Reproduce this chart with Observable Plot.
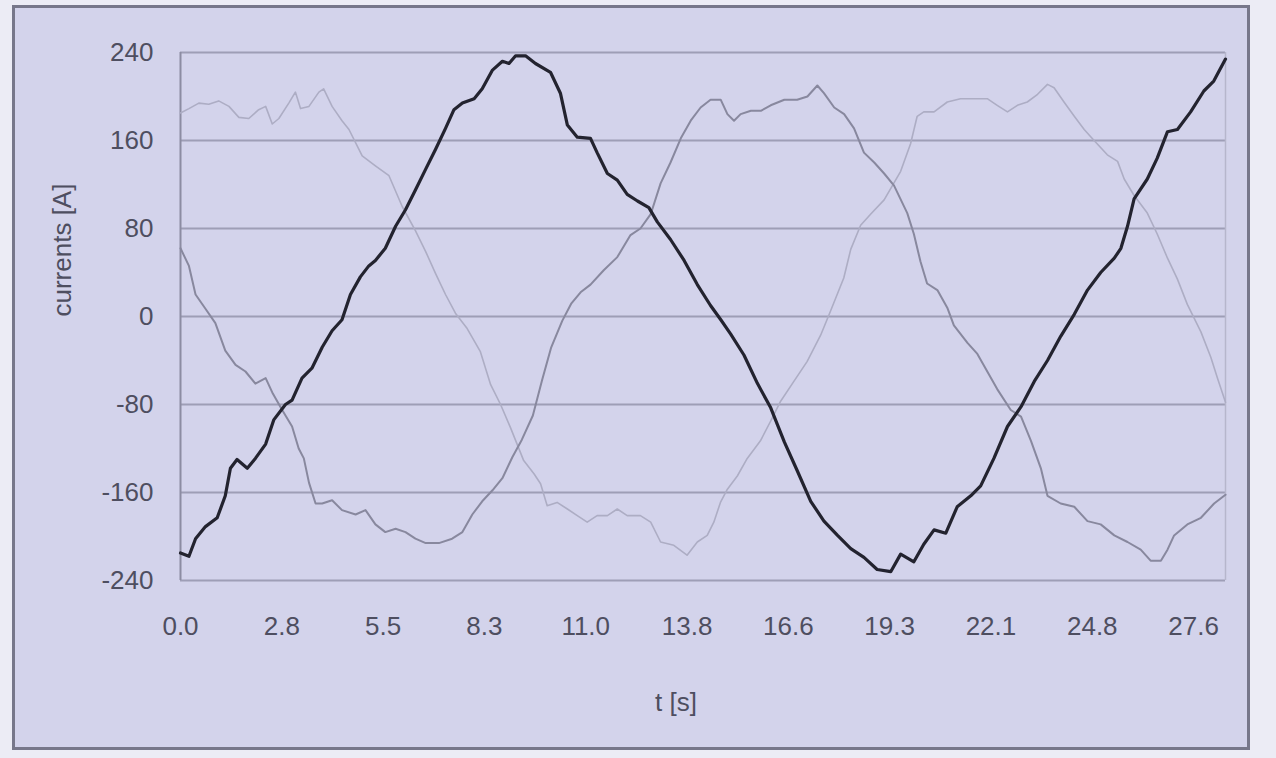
<!DOCTYPE html>
<html>
<head>
<meta charset="utf-8">
<script src="https://cdn.jsdelivr.net/npm/d3@7"></script>
<script src="https://cdn.jsdelivr.net/npm/@observablehq/plot@0.6"></script>
<style>
  html, body { margin: 0; padding: 0; background: #ececf5; }
  #wrap { position: relative; width: 1276px; height: 758px; overflow: hidden; }
  #panel { position: absolute; left: 12px; top: 5px; width: 1238px; height: 745px;
           background: #d3d3eb; border: 3px solid #77778a; box-sizing: border-box; }
  #chart { position: absolute; left: 0; top: 0; }
</style>
</head>
<body>
<div id="wrap"><div id="panel"></div><div id="chart"></div></div>
<script>
// time axis (s)
const xTicks = [0, 2.76, 5.52, 8.28, 11.04, 13.8, 16.56, 19.32, 22.08, 24.84, 27.6];
const yTicks = [-240, -160, -80, 0, 80, 160, 240];
const tMax = 28.47;

// phase 1 (dark)
const tA = [0,0.23,0.41,0.68,1.0,1.22,1.36,1.54,1.82,2.04,2.32,2.54,2.86,3.04,3.31,3.58,3.86,4.13,4.4,4.63,4.9,5.13,5.31,5.58,5.86,6.13,6.4,6.68,6.95,7.22,7.45,7.68,8.0,8.22,8.5,8.77,8.95,9.13,9.4,9.67,10.08,10.35,10.54,10.81,11.17,11.35,11.63,11.9,12.17,12.45,12.76,12.99,13.35,13.72,14.08,14.44,14.72,14.99,15.35,15.72,16.08,16.45,16.8,17.17,17.53,17.9,18.26,18.62,18.98,19.35,19.62,19.98,20.25,20.53,20.85,21.16,21.53,21.8,22.16,22.53,22.9,23.26,23.62,23.98,24.35,24.71,25.07,25.44,25.62,25.8,25.98,26.34,26.61,26.89,27.16,27.52,27.88,28.15,28.47];
const iA = [-215,-218,-202,-191,-183,-163,-138,-130,-138,-129,-116,-94,-80,-76,-56,-47,-28,-13,-3,20,36,46,51,62,82,97,115,134,152,171,188,194,198,207,224,232,230,237,237,230,222,203,174,163,162,149,130,124,111,105,99,86,70,51,29,10,-3,-16,-35,-61,-83,-114,-140,-168,-186,-199,-211,-219,-230,-232,-216,-223,-207,-194,-197,-173,-163,-154,-129,-100,-82,-59,-40,-18,2,24,40,53,62,82,107,125,144,168,170,186,205,214,234];

// phase 2 (medium grey)
const tB = [0,0.23,0.41,0.68,0.95,1.22,1.5,1.77,2.04,2.32,2.5,2.77,3.04,3.22,3.36,3.5,3.68,3.86,4.13,4.4,4.77,5.04,5.31,5.58,5.86,6.13,6.4,6.68,7.04,7.4,7.68,7.95,8.22,8.5,8.77,9.04,9.3,9.6,9.85,10.1,10.4,10.65,10.9,11.17,11.53,11.9,12.26,12.53,12.81,13.08,13.35,13.63,13.9,14.17,14.44,14.72,14.9,15.08,15.26,15.54,15.81,16.08,16.45,16.8,17.08,17.35,17.53,17.81,18.08,18.35,18.62,18.9,19.17,19.44,19.8,19.98,20.16,20.34,20.62,20.89,21.07,21.44,21.71,21.98,22.25,22.62,22.9,23.17,23.44,23.62,23.98,24.35,24.71,25.07,25.44,25.8,26.16,26.43,26.71,26.89,27.07,27.43,27.8,28.16,28.47];
const iB = [62,46,20,7,-6,-31,-44,-50,-61,-56,-69,-85,-100,-120,-129,-151,-170,-170,-167,-176,-180,-176,-189,-196,-193,-196,-202,-206,-206,-202,-196,-180,-168,-158,-147,-128,-112,-90,-58,-28,-4,12,22,29,42,54,74,80,93,121,140,162,178,190,197,197,184,178,184,187,187,192,197,197,200,210,203,190,184,171,149,140,130,119,94,75,50,30,24,8,-8,-24,-34,-50,-66,-85,-91,-113,-138,-163,-170,-173,-186,-189,-199,-205,-212,-222,-222,-212,-199,-189,-183,-170,-162];

// phase 3 (light grey)
const tC = [0,0.23,0.5,0.77,1.04,1.32,1.59,1.86,2.13,2.32,2.5,2.68,2.95,3.13,3.27,3.5,3.77,3.9,4.13,4.4,4.59,4.95,5.31,5.68,6.04,6.4,6.68,6.95,7.22,7.49,7.81,8.17,8.45,8.72,8.99,9.35,9.63,9.81,9.99,10.26,10.54,10.81,11.08,11.35,11.63,11.9,12.17,12.53,12.81,13.08,13.44,13.8,14.08,14.35,14.53,14.71,14.9,15.17,15.44,15.8,16.08,16.35,16.71,17.07,17.44,17.71,18.07,18.26,18.53,18.8,19.17,19.62,19.89,20.07,20.25,20.53,20.89,21.25,21.62,21.98,22.25,22.53,22.8,23.07,23.35,23.62,23.8,24.07,24.35,24.62,24.89,25.25,25.53,25.71,25.98,26.34,26.61,26.89,27.16,27.43,27.8,28.07,28.25,28.47];
const iC = [185,189,194,193,196,191,181,180,188,191,175,180,194,204,189,191,204,207,191,178,170,146,137,128,100,78,59,39,20,3,-11,-32,-62,-80,-101,-131,-143,-152,-172,-169,-175,-181,-187,-181,-181,-175,-181,-181,-187,-205,-208,-217,-205,-199,-187,-169,-157,-145,-129,-113,-95,-77,-59,-41,-17,5,35,61,83,93,106,132,157,182,186,186,195,198,198,198,192,186,192,195,202,211,208,195,182,170,160,147,141,125,110,94,75,53,34,11,-14,-37,-56,-78];

const seriesA = tA.map((t, k) => ({t, i: iA[k]}));
const seriesB = tB.map((t, k) => ({t, i: iB[k]}));
const seriesC = tC.map((t, k) => ({t, i: iC[k]}));

const textColor = "#4e4e60";
const chart = Plot.plot({
  width: 1276,
  height: 758,
  marginLeft: 180,
  marginRight: 51,
  marginTop: 52,
  marginBottom: 178,
  style: {background: "transparent", fontFamily: "'Liberation Sans', Arial, sans-serif", fontSize: "26px", color: textColor},
  x: {domain: [0, tMax], label: null},
  y: {domain: [-240, 240], label: null},
  marks: [
    Plot.gridY(yTicks, {stroke: "#9e9eb6", strokeOpacity: 1, strokeWidth: 2}),
    Plot.ruleX([tMax], {stroke: "#b6b6cc", strokeWidth: 1.5}),
    Plot.ruleX([0], {stroke: "#8c8ca2", strokeWidth: 2}),
    Plot.axisX(xTicks, {tickSize: 0, tickPadding: 36, tickFormat: d => d.toFixed(1), fontSize: 26, fill: textColor, label: null}),
    Plot.axisY(yTicks, {tickSize: 0, tickPadding: 27, tickFormat: d => String(d), fontSize: 26, fill: textColor, label: null}),
    Plot.line(seriesC, {x: "t", y: "i", stroke: "#adadc4", strokeWidth: 1.6}),
    Plot.line(seriesB, {x: "t", y: "i", stroke: "#88889e", strokeWidth: 2}),
    Plot.line(seriesA, {x: "t", y: "i", stroke: "#23232f", strokeWidth: 3.2}),
    Plot.text(["currents [A]"], {frameAnchor: "left", dx: -118, rotate: -90, fontSize: 26, fill: textColor}),
    Plot.text(["t [s]"], {frameAnchor: "bottom", dx: -27, dy: 130, fontSize: 26, fill: textColor})
  ]
});
document.getElementById("chart").appendChild(chart);
</script>
</body>
</html>
